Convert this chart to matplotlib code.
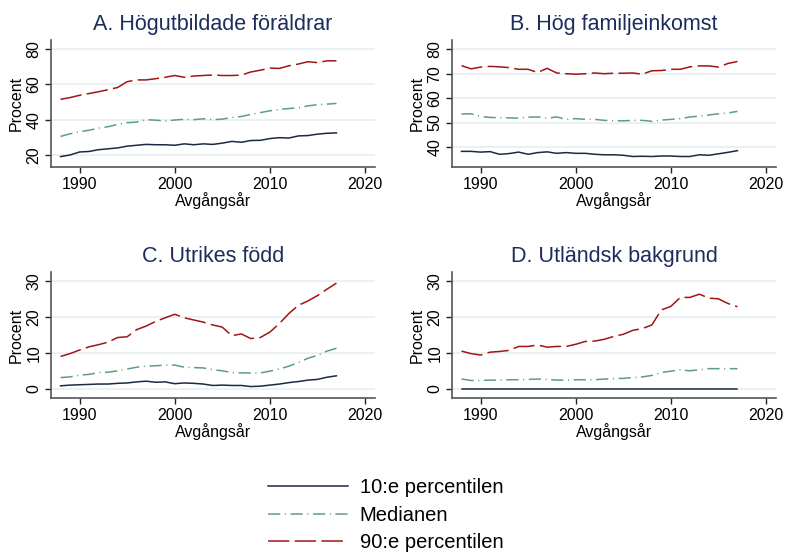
import matplotlib
matplotlib.use("Agg")
import matplotlib.pyplot as plt

plt.rcParams['font.family'] = ['Liberation Sans', 'DejaVu Sans']

## Data
years = list(range(1988, 2018))

titles = ['A. Högutbildade föräldrar', 'B. Hög familjeinkomst',
          'C. Utrikes född', 'D. Utländsk bakgrund']

a_p10 = [19.1, 20.0, 21.7, 22.0, 23.0, 23.5, 24.0, 25.0, 25.5, 26.0, 25.8, 25.8, 25.5, 26.3, 25.8,
         26.3, 26.0, 26.7, 27.7, 27.2, 28.2, 28.3, 29.3, 29.8, 29.6, 30.8, 31.0, 31.8, 32.3, 32.5]
a_med = [30.5, 32.0, 33.2, 34.0, 35.2, 36.0, 37.3, 38.3, 38.6, 40.0, 39.7, 39.2, 39.8, 40.2, 40.0,
         40.5, 40.0, 40.3, 41.2, 41.8, 43.0, 44.0, 45.0, 45.8, 46.3, 46.8, 47.8, 48.5, 48.8, 49.2]
a_p90 = [51.5, 52.5, 53.8, 54.8, 55.8, 57.0, 58.2, 61.5, 62.5, 62.5, 63.2, 64.0, 65.0, 64.0, 64.7,
         65.0, 65.3, 65.0, 65.0, 65.2, 67.0, 68.0, 69.2, 69.0, 70.5, 71.5, 72.8, 72.3, 73.3, 73.3]

b_p10 = [38.2, 38.2, 37.9, 38.1, 37.0, 37.3, 37.9, 37.0, 37.7, 38.0, 37.4, 37.7, 37.4, 37.4, 37.0,
         36.8, 36.8, 36.6, 36.1, 36.2, 36.1, 36.3, 36.3, 36.1, 36.1, 36.8, 36.6, 37.2, 37.8, 38.5]
b_med = [53.5, 53.6, 52.5, 52.1, 52.0, 51.9, 51.8, 52.2, 52.3, 51.8, 52.3, 51.3, 51.6, 51.3, 51.3,
         50.9, 50.8, 50.7, 50.9, 50.9, 50.5, 51.0, 51.3, 51.6, 52.3, 52.6, 53.1, 53.6, 53.9, 54.6]
b_p90 = [73.3, 72.0, 72.7, 73.0, 72.8, 72.5, 71.8, 71.8, 70.5, 72.2, 70.3, 70.0, 69.8, 70.0, 70.3,
         70.0, 70.2, 70.2, 70.3, 69.8, 71.2, 71.3, 71.8, 71.8, 72.8, 73.2, 73.2, 72.7, 74.2, 75.0]

c_p10 = [0.8, 1.0, 1.1, 1.2, 1.3, 1.3, 1.5, 1.6, 1.9, 2.1, 1.8, 1.9, 1.4, 1.6, 1.5,
         1.3, 0.9, 1.0, 0.9, 0.9, 0.6, 0.7, 1.0, 1.3, 1.7, 2.0, 2.4, 2.6, 3.2, 3.6]
c_med = [3.1, 3.3, 3.8, 4.0, 4.5, 4.6, 5.0, 5.5, 6.0, 6.3, 6.4, 6.6, 6.6, 6.0, 5.9,
         5.8, 5.3, 5.0, 4.5, 4.4, 4.4, 4.4, 4.9, 5.5, 6.3, 7.3, 8.5, 9.3, 10.5, 11.3]
c_p90 = [9.0, 9.8, 10.8, 11.7, 12.3, 13.0, 14.3, 14.5, 16.5, 17.5, 18.8, 19.8, 20.8, 19.8, 19.2,
         18.6, 17.8, 17.2, 14.8, 15.3, 14.0, 14.3, 15.8, 18.2, 21.0, 23.3, 24.5, 26.0, 27.8, 29.5]

d_p10 = [0.0] * 30
d_med = [2.7, 2.3, 2.3, 2.4, 2.4, 2.5, 2.5, 2.6, 2.7, 2.6, 2.4, 2.4, 2.5, 2.5, 2.5,
         2.7, 2.8, 2.9, 3.1, 3.3, 3.7, 4.5, 4.9, 5.3, 5.0, 5.3, 5.6, 5.6, 5.6, 5.6]
d_p90 = [10.5, 9.8, 9.4, 10.2, 10.4, 10.7, 11.8, 11.8, 12.2, 11.6, 11.8, 11.8, 12.4, 13.2, 13.3,
         13.8, 14.6, 15.2, 16.3, 16.8, 17.8, 22.0, 23.0, 25.5, 25.5, 26.4, 25.3, 25.1, 23.8, 22.9]

series_labels = ['10:e percentilen', 'Medianen', '90:e percentilen']

panels = [(a_p10, a_med, a_p90), (b_p10, b_med, b_p90),
          (c_p10, c_med, c_p90), (d_p10, d_med, d_p90)]
yticks = [[20, 40, 60, 80], [40, 50, 60, 70, 80], [0, 10, 20, 30], [0, 10, 20, 30]]
ylims = [(13.2, 85.1), (31.8, 83.8), (-2.6, 32.6), (-2.6, 32.6)]

## Styles
title_color = '#1c2d5c'
colors = ['#1b2a41', '#5e9e80', '#a01515']
dashes = [None, (8, 3, 0.7, 3), (14, 3.5)]
lw = 1.1

fig = plt.figure(figsize=(7.86, 5.55), dpi=100)
W, H = 786, 555
boxes = [(51, 40, 375, 167), (452, 40, 776, 167), (51, 272, 375, 398), (452, 272, 776, 398)]

handles = []
for i, (box, data) in enumerate(zip(boxes, panels)):
    x0, y0, x1, y1 = box
    ax = fig.add_axes([x0 / W, 1 - y1 / H, (x1 - x0) / W, (y1 - y0) / H])
    for k, vals in enumerate(data):
        line, = ax.plot(years, vals, color=colors[k], lw=lw, label=series_labels[k])
        if dashes[k] is not None:
            line.set_dashes(dashes[k])
        if i == 0:
            handles.append(line)
    ax.set_xlim(1987.0, 2021.05)
    ax.set_ylim(*ylims[i])
    ax.set_xticks([1990, 2000, 2010, 2020])
    ax.set_yticks(yticks[i])
    ax.grid(axis='y', color='#e6eef1', lw=1.2)
    ax.set_axisbelow(True)
    for s in ['top', 'right']:
        ax.spines[s].set_visible(False)
    for s in ['left', 'bottom']:
        ax.spines[s].set_color('#555555')
        ax.spines[s].set_linewidth(1.2)
    ax.tick_params(axis='both', length=4, width=1, color='#222222', labelsize=11.5, pad=3)
    for lab in ax.get_yticklabels():
        lab.set_rotation(90)
        lab.set_va('center')
    ax.set_xlabel('Avgångsår', fontsize=11.5, labelpad=0)
    ax.set_ylabel('Procent', fontsize=11.5, labelpad=2)
    ax.set_title(titles[i], fontsize=15.5, color=title_color, pad=7)

leg = fig.legend(handles=handles, labels=series_labels, loc='upper left',
                 bbox_to_anchor=(250 / W, 1 - 460 / H), frameon=False,
                 fontsize=14.5, handlelength=3.95, handletextpad=0.6, labelspacing=0.42)

fig.savefig('out.png', dpi=100)
